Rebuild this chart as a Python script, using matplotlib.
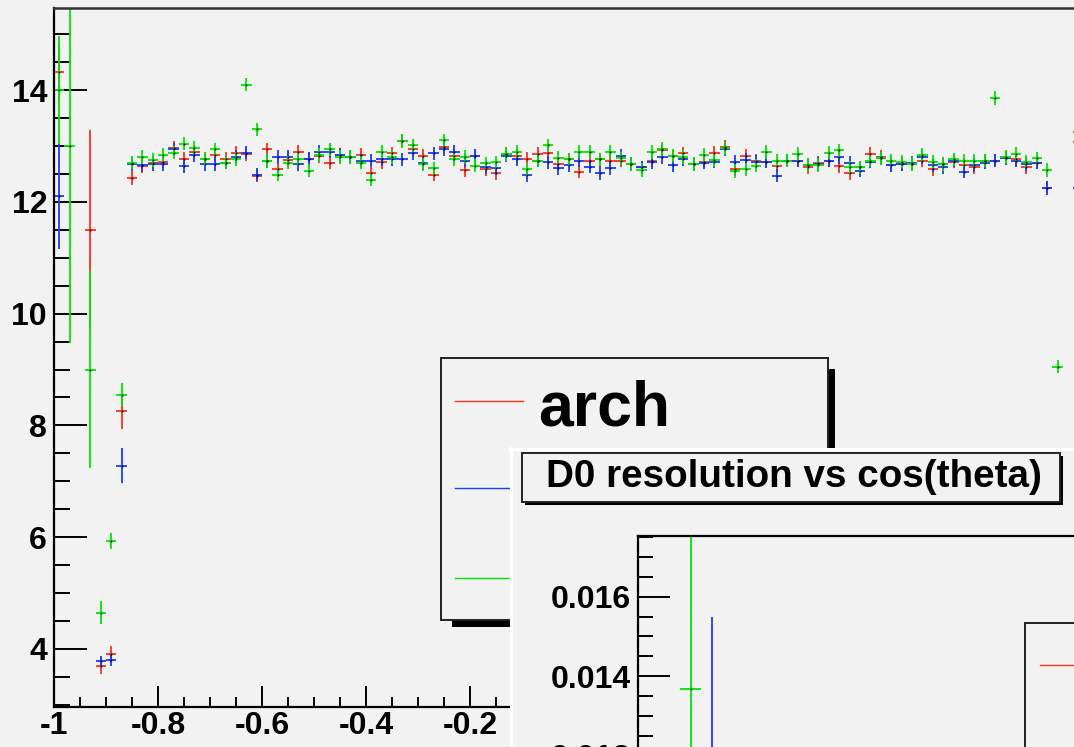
import numpy as np
import matplotlib
matplotlib.use("Agg")
import matplotlib.pyplot as plt
from matplotlib.patches import Rectangle
from matplotlib.lines import Line2D
from matplotlib.ticker import MultipleLocator

plt.rcParams['font.family'] = ['Liberation Sans', 'DejaVu Sans']
plt.rcParams['font.weight'] = 'bold'

nan = np.nan

# ---------------- data (main histogram, 0.02 wide bins) ----------------
cos_theta = np.round(np.arange(-0.99, 0.98, 0.02), 2)

red_vals = [14.33, nan, nan, 11.50, 3.70, 3.90, 8.25,
            12.43, 12.64, 12.70, 12.72, 12.97, 12.77, 12.90, 12.77, 12.84, 12.77,
            12.88, 12.85, 12.47, 12.94, 12.58, 12.75, 12.90, 12.77, 12.82, 12.70,
            12.84, 12.80, 12.84, 12.51, 12.71, 12.87, 13.09, 12.95, 12.83, 12.49,
            12.98, 12.83, 12.57, 12.82, 12.58, 12.51, 12.86, 12.83, 12.77, 12.86,
            12.87, 12.68, 12.76, 12.54, 12.74, 12.76, 12.74, 12.74, 12.68, 12.62,
            12.74, 12.92, 12.83, 12.87, 12.68, 12.72, 12.88, 12.98, 12.58, 12.82,
            12.74, 12.72, 12.65, 12.74, 12.74, 12.62, 12.70, 12.74, 12.64, 12.52,
            12.62, 12.86, 12.80, 12.66, 12.68, 12.68, 12.74, 12.58, 12.68, 12.72,
            12.66, 12.62, 12.74, 12.74, 12.78, 12.76, 12.62, 12.70, 12.25, nan,
            nan, 13.07]
blue_vals = [12.10, nan, nan, nan, 3.78, 3.80, 7.28,
             12.68, 12.66, 12.68, 12.68, 12.94, 12.64, 12.84, 12.68, 12.68, 12.70,
             12.80, 12.88, 12.49, 12.73, 12.80, 12.80, 12.68, 12.77, 12.90, 12.90,
             12.84, 12.80, 12.74, 12.74, 12.76, 12.76, 12.76, 12.87, 12.69, 12.87,
             12.95, 12.89, 12.74, 12.83, 12.62, 12.60, 12.83, 12.76, 12.48, 12.74,
             12.71, 12.60, 12.66, 12.74, 12.63, 12.52, 12.60, 12.83, 12.68, 12.62,
             12.71, 12.80, 12.66, 12.76, 12.68, 12.70, 12.72, 12.94, 12.72, 12.75,
             12.72, 12.72, 12.47, 12.74, 12.74, 12.66, 12.68, 12.74, 12.80, 12.70,
             12.56, 12.72, 12.78, 12.66, 12.68, 12.70, 12.80, 12.66, 12.62, 12.74,
             12.54, 12.66, 12.70, 12.74, 12.78, 12.74, 12.68, 12.70, 12.25, nan,
             nan, 12.24]
green_vals = [14.00, 13.00, nan, 9.00, 4.65, 5.93, 8.55,
              12.70, 12.80, 12.75, 12.84, 12.88, 13.04, 12.97, 12.77, 12.94, 12.70,
              12.77, 14.10, 13.30, 12.73, 12.49, 12.70, 12.77, 12.56, 12.84, 12.94,
              12.80, 12.80, 12.70, 12.40, 12.90, 12.80, 13.09, 13.01, 12.67, 12.60,
              13.10, 12.76, 12.80, 12.65, 12.69, 12.71, 12.86, 12.90, 12.58, 12.74,
              13.01, 12.79, 12.76, 12.90, 12.90, 12.76, 12.89, 12.78, 12.68, 12.57,
              12.89, 12.95, 12.83, 12.80, 12.68, 12.84, 12.75, 12.96, 12.55, 12.58,
              12.65, 12.89, 12.74, 12.74, 12.86, 12.66, 12.66, 12.88, 12.92, 12.62,
              12.62, 12.74, 12.78, 12.74, 12.72, 12.68, 12.84, 12.72, 12.68, 12.76,
              12.74, 12.74, 12.74, 13.86, 12.80, 12.86, 12.72, 12.78, 12.57, 9.05,
              nan, 13.25]

band_err = 0.12
red_err_head = [0.50, nan, nan, 1.78, 0.15, 0.15, 0.32]
blue_err_head = [0.95, nan, nan, nan, 0.10, 0.10, 0.31]
green_err_head = [0.97, 3.52, nan, 1.76, 0.20, 0.15, 0.21]

# inset canvas: "D0 resolution vs cos(theta)"
d0_green_x, d0_green_y, d0_green_err = [-0.95], [0.01368], [0.0045]
d0_blue_x, d0_blue_y, d0_blue_err = [-0.93], [0.0118], [0.0037]

series_colors = {'red': '#ff2d1a', 'blue': '#1a3cff', 'green': '#00e600'}
BG = '#f2f2f2'

# ---------------- figure ----------------
W, H = 1074, 747
fig = plt.figure(figsize=(W / 100, H / 100), dpi=100, facecolor=BG)


def fx(px):
    return px / W


def fy(py):
    return 1 - py / H


def rect_px(x0, y0, x1, y1, **kw):
    return Rectangle((fx(x0), fy(y1)), (x1 - x0) / W, (y1 - y0) / H,
                     transform=fig.transFigure, **kw)


def hline_px(x0, x1, y, **kw):
    return Line2D([fx(x0), fx(x1)], [fy(y), fy(y)], transform=fig.transFigure, **kw)


def vline_px(x, y0, y1, **kw):
    return Line2D([fx(x), fx(x)], [fy(y0), fy(y1)], transform=fig.transFigure, **kw)


# main axes (extends past the right edge of the picture)
ax = fig.add_axes([fx(54), fy(707), 1040 / W, (707 - 8) / H], zorder=1)
ax.set_facecolor(BG)
ax.set_xlim(-1, 1)
ax.set_ylim(2.96, 15.47)
for s in ['left', 'bottom']:
    ax.spines[s].set_linewidth(1.6)
    ax.spines[s].set_color('black')
ax.spines['top'].set_linewidth(1.8)
ax.spines['top'].set_color('#333333')
ax.spines['right'].set_visible(False)

xt = [-1, -0.8, -0.6, -0.4, -0.2, 0, 0.2, 0.4, 0.6, 0.8]
ax.set_xticks(xt)
ax.set_xticklabels(['-1', '-0.8', '-0.6', '-0.4', '-0.2', '0', '0.2', '0.4', '0.6', '0.8'])
ax.xaxis.set_minor_locator(MultipleLocator(0.05))
yt = [4, 6, 8, 10, 12, 14]
ax.set_yticks(yt)
ax.set_yticklabels([str(v) for v in yt])
ax.yaxis.set_minor_locator(MultipleLocator(0.5))
ax.tick_params(axis='x', which='major', direction='in', length=15, width=1.4,
               pad=3, labelsize=23, top=False)
ax.tick_params(axis='x', which='minor', direction='in', length=7.2, width=1.4, top=False)
ax.tick_params(axis='y', which='major', direction='in', length=23.8, width=1.4,
               pad=5, labelsize=23, right=False)
ax.tick_params(axis='y', which='minor', direction='in', length=11.5, width=1.4, right=False)


def full_err(head):
    e = np.full(len(cos_theta), band_err)
    e[:len(head)] = head
    return e


for vals, head, col in [(red_vals, red_err_head, series_colors['red']),
                        (blue_vals, blue_err_head, series_colors['blue']),
                        (green_vals, green_err_head, series_colors['green'])]:
    v = np.array(vals, dtype=float)
    e = full_err(head)
    m = ~np.isnan(v)
    ax.errorbar(cos_theta[m], v[m], xerr=0.01, yerr=e[m], fmt='none',
                ecolor=col, elinewidth=1.3, capsize=0, zorder=2)
    ax.plot(cos_theta[m], v[m], ls='none', marker='s', ms=1.2, mew=0,
            color='black', zorder=3)

# ---------------- legend box of main canvas ----------------
fig.add_artist(rect_px(452, 369, 835, 627, facecolor='black', edgecolor='none', zorder=3))
fig.add_artist(rect_px(441, 358, 828, 620, facecolor=BG, edgecolor='#222222',
                       lw=1.4, zorder=3.1))
fig.add_artist(hline_px(455, 523, 401, color=series_colors['red'], lw=1.0, zorder=3.2))
fig.add_artist(hline_px(455, 523, 488, color=series_colors['blue'], lw=1.0, zorder=3.2))
fig.add_artist(hline_px(455, 523, 578, color=series_colors['green'], lw=1.0, zorder=3.2))
fig.text(fx(538), fy(425), 'arch', fontsize=45, fontweight='bold', ha='left',
         va='baseline', zorder=3.3)

# ---------------- second canvas on top ----------------
fig.add_artist(rect_px(510, 448, 1090, 760, facecolor=BG, edgecolor='none', zorder=4))
fig.add_artist(hline_px(510, 1090, 449.2, color='white', lw=2.2, zorder=4.1))
fig.add_artist(vline_px(511.3, 448, 760, color='white', lw=2.2, zorder=4.1))

# title box
fig.add_artist(rect_px(524.5, 455.7, 1063, 504.7, facecolor='black', edgecolor='none', zorder=4.2))
fig.add_artist(rect_px(521.5, 452.7, 1060, 501.7, facecolor=BG, edgecolor='#222222',
                       lw=1.4, zorder=4.3))
fig.text(fx(794), fy(487), 'D0 resolution vs cos(theta)', fontsize=27.8,
         fontweight='bold', ha='center', va='baseline', zorder=4.4)

# inner axes
in_top_val = 0.017523
in_px_per = 79.6 / 0.002
in_h_px = 300
ax2 = fig.add_axes([fx(638), fy(536 + in_h_px), 500 / W, in_h_px / H], zorder=5)
ax2.set_facecolor(BG)
ax2.set_xlim(-1, -1 + 500 / 1050)
ax2.set_ylim(in_top_val - in_h_px / in_px_per, in_top_val)
for s in ['left', 'top']:
    ax2.spines[s].set_linewidth(1.6)
    ax2.spines[s].set_color('black')
ax2.spines['right'].set_visible(False)
ax2.spines['bottom'].set_visible(False)
ax2.set_xticks([])
ax2.set_yticks([0.012, 0.014, 0.016])
ax2.set_yticklabels(['0.012', '0.014', '0.016'])
ax2.yaxis.set_minor_locator(MultipleLocator(0.0005))
ax2.tick_params(axis='y', which='major', direction='in', length=23, width=1.4,
                pad=5, labelsize=23, right=False)
ax2.tick_params(axis='y', which='minor', direction='in', length=11, width=1.4, right=False)
ax2.errorbar(d0_blue_x, d0_blue_y, xerr=0.01, yerr=d0_blue_err, fmt='none',
             ecolor=series_colors['blue'], elinewidth=1.3, capsize=0)
ax2.errorbar(d0_green_x, d0_green_y, xerr=0.01, yerr=d0_green_err, fmt='none',
             ecolor=series_colors['green'], elinewidth=1.3, capsize=0)
ax2.plot(d0_green_x, d0_green_y, ls='none', marker='s', ms=1.2, mew=0, color='black')

# inner legend (cut by the picture edge)
fig.add_artist(rect_px(1025, 622.7, 1100, 800, facecolor=BG, edgecolor='#222222',
                       lw=1.4, zorder=6))
fig.add_artist(hline_px(1039.5, 1100, 665.3, color=series_colors['red'], lw=1.0, zorder=6.1))

fig.savefig('out.png', dpi=100, facecolor=BG)
